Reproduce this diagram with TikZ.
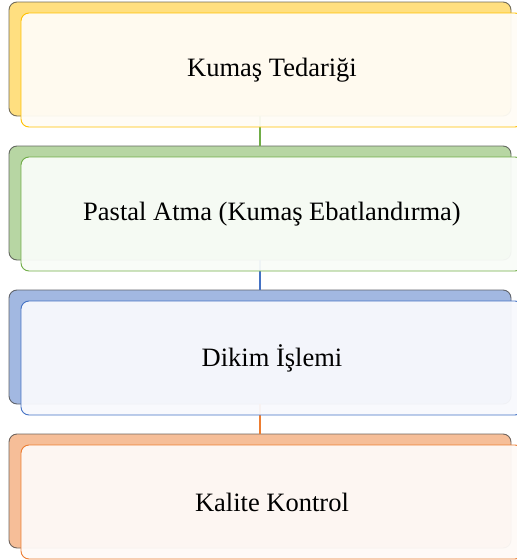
\documentclass[tikz,border=0pt]{standalone}
\usepackage{fontspec}
\setmainfont{Liberation Serif}
\usepackage{tikz}
\usetikzlibrary{calc,positioning}
\definecolor{tedarik}{HTML}{FFC000}
\definecolor{pastal}{HTML}{70AD47}
\definecolor{dikim}{HTML}{4472C4}
\definecolor{kalite}{HTML}{ED7D31}
\tikzset{
	backbox/.style={rectangle, rounded corners=8pt, minimum width=502pt, minimum height=114pt, inner sep=0pt, line width=0.9pt},
	stepbox/.style={rectangle, rounded corners=8pt, minimum width=502pt, minimum height=114pt, inner sep=0pt, line width=0.9pt, fill opacity=0.95, text opacity=1, font=\fontsize{26.5}{30}\selectfont}
}

\begin{document}
\begin{tikzpicture}[x=1pt,y=-1pt]
	\useasboundingbox (0,0) rectangle (517,560);
	\clip (0,0) rectangle (517,560);
	\foreach \i/\c in {1/tedarik,2/pastal,3/dikim,4/kalite}
		\node (back\i) at (260,{59+144*(\i-1)}) [backbox, fill=\c!50!white, draw=\c!15!black!65!white] {};
	\foreach \i/\j/\c in {1/2/pastal,2/3/dikim,3/4/kalite}
		\draw [\c, line width=1.2pt] (back\i.south) -- (back\j.north);
	\foreach \i/\c/\t in {1/tedarik/Kumaş Tedariği,2/pastal/Pastal Atma (Kumaş Ebatlandırma),3/dikim/Dikim İşlemi,4/kalite/Kalite Kontrol}
		\node (step\i) at ($(back\i)+(12,11)$) [stepbox, fill=\c!4!white, draw=\c] {\raisebox{-2pt}{\t}};
\end{tikzpicture}
\end{document}
